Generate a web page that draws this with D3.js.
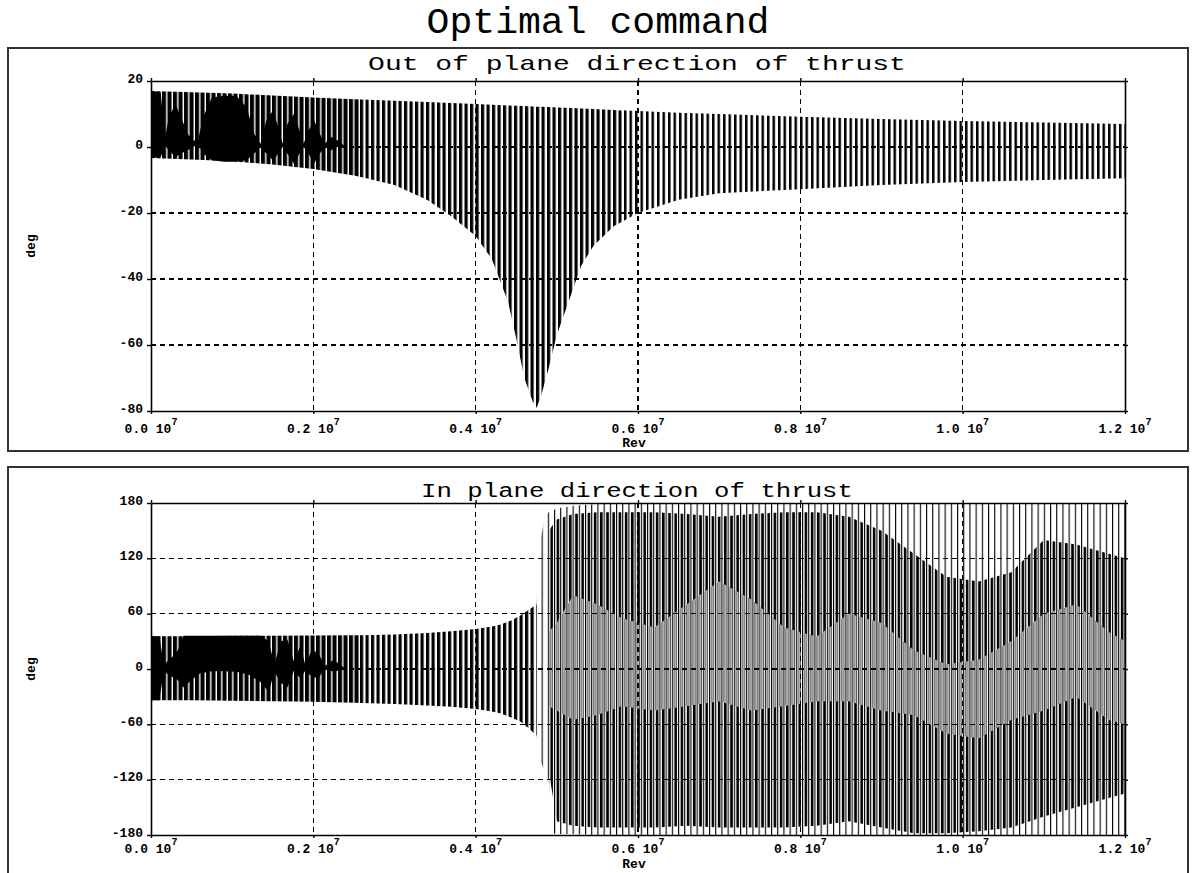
<!DOCTYPE html>
<html>
<head>
<meta charset="utf-8">
<script src="https://cdn.jsdelivr.net/npm/d3@7"></script>
<style>
  body { margin: 0; background: #fff; }
  svg { display: block; }
  .tk { font-family: "Liberation Mono", monospace; font-weight: bold; font-size: 13px; fill: #000; }
  .ttl { font-family: "Liberation Mono", monospace; fill: #000; }
</style>
</head>
<body>
<svg id="chart" width="1196" height="873"></svg>
<script>
// x values are in units of 10^7 rev
const xTicks = [0, 0.2, 0.4, 0.6, 0.8, 1.0, 1.2];
const outTicks = [-80, -60, -40, -20, 0, 20];
const inTicks = [-180, -120, -60, 0, 60, 120, 180];

// out of plane angle: envelope of the fast oscillation (deg)
const outRev = [0, 0.05, 0.1, 0.15, 0.2, 0.25, 0.3, 0.34, 0.37, 0.4, 0.42, 0.44, 0.45, 0.46, 0.47, 0.475, 0.48, 0.49, 0.5, 0.51, 0.52, 0.53, 0.545, 0.57, 0.6, 0.65, 0.7, 0.8, 0.9, 1.0, 1.1, 1.2];
const outMax = [17, 16.6, 16.2, 15.6, 15, 14.5, 14, 13.6, 13.3, 13, 12.8, 12.6, 12.5, 12.4, 12.3, 12.2, 12.2, 12.1, 12, 11.9, 11.8, 11.7, 11.5, 11.2, 10.9, 10.4, 10, 9.2, 8.5, 7.9, 7.4, 7];
const outMin = [-3.3, -3.8, -4.3, -5.3, -6.7, -8.6, -11.5, -16, -21, -27, -34, -47, -58, -70, -77, -79, -76, -67, -57, -50, -43, -36, -30, -24, -20, -16, -14, -12.8, -11.5, -10.6, -10, -9.5];
// where the strokes overlap into solid black (beats)
const outCoreRev = [0, 0.012, 0.017, 0.022, 0.03, 0.037, 0.045, 0.052, 0.058, 0.064, 0.075, 0.09, 0.105, 0.118, 0.127, 0.135, 0.142, 0.15, 0.157, 0.162, 0.168, 0.176, 0.183, 0.188, 0.194, 0.201, 0.208, 0.214, 0.222, 0.23, 0.24];
const outCoreMax = [17, 16.5, 2.5, 9, 13, 9, 4, 2, 2, 9, 15, 15.5, 15.5, 12, 4, 1, 8, 11, 6, 1, 7, 10, 5, 1, 5, 8, 4, 1, 3, 2, 0];
const outCoreMin = [-3.3, -3, 0.5, -1, -3, -2, -1, 0, 1, -2, -4, -4.5, -4.5, -4, -2, 0, -2, -4, -2, 0, -2, -5, -2, 0, -2, -5, -2, 0, -1, 0, 0];

// in plane angle before it starts wrapping (deg)
const inRev = [0, 0.05, 0.1, 0.15, 0.2, 0.25, 0.3, 0.34, 0.37, 0.4, 0.42, 0.43, 0.445, 0.455, 0.465, 0.475];
const inMax = [35.5, 35.5, 36, 36, 36.2, 36.5, 37.5, 39, 41, 43.5, 46, 48, 53, 58, 64, 70];
const inMin = [-34, -34, -34.5, -35, -35.5, -36.5, -38, -39.5, -41, -43.5, -46, -48, -53, -57, -64, -72];
const inCoreRev = [0, 0.01, 0.016, 0.025, 0.033, 0.04, 0.05, 0.06, 0.075, 0.09, 0.105, 0.12, 0.135, 0.145, 0.152, 0.16, 0.168, 0.176, 0.184, 0.19, 0.198, 0.206, 0.214, 0.225, 0.24];
const inCoreMax = [35.5, 35.5, 5, 12, 20, 36, 36, 36, 36, 36, 36, 36, 36, 30, 5, 30, 32, 8, 25, 5, 20, 18, 3, 10, 0];
const inCoreMin = [-34, -34, -3, -8, -12, -20, -12, -5, -2.5, -2.5, -3, -6, -14, -25, -3, -15, -20, -2, -10, -2, -8, -10, 0, -3, 0];

// in plane angle once it wraps at +-180 (deg)
const wrapRev = [0.475, 0.48, 0.485, 0.49, 0.495, 0.5, 0.52, 0.55, 0.6, 0.7, 0.8, 0.9, 1.0, 1.1, 1.2];
const wrapMax = [70, 140, 165, 170, 172, 174, 177, 179, 180, 180, 180, 180, 180, 180, 180];
const wrapMin = [-72, -100, -112, -120, -178, -179, -179, -180, -180, -180, -180, -180, -180, -180, -180];
// heavy strokes (upper and lower) and the grey middle band between them
const heavyRev = [0.49, 0.5, 0.52, 0.55, 0.58, 0.62, 0.66, 0.7, 0.74, 0.78, 0.82, 0.86, 0.9, 0.94, 0.98, 1.02, 1.06, 1.1, 1.14, 1.18, 1.2];
const upTop = [150, 162, 168, 170, 170, 170, 168, 165, 168, 170, 170, 165, 150, 125, 100, 95, 105, 140, 135, 125, 120];
const upEnd = [40, 50, 80, 70, 55, 45, 70, 95, 75, 45, 35, 60, 50, 20, 5, 10, 30, 60, 70, 40, 30];
const loEnd = [-40, -45, -55, -50, -40, -45, -40, -35, -45, -40, -35, -35, -45, -50, -70, -75, -55, -45, -30, -55, -60];
const loBot = [-110, -165, -170, -172, -172, -172, -170, -172, -172, -172, -170, -165, -172, -178, -178, -176, -172, -160, -150, -140, -135];

// stroke density changes along the run: [from, to] in 10^7 rev
const densityBreaks = [[0, 0.26, "hatchDense"], [0.26, 0.58, "hatch"], [0.58, 1.2, "hatchLight"]];

const svg = d3.select("#chart");
const defs = svg.append("defs");
const X0 = 151, X1 = 1125;

function pattern(id, w, bars) {
  const p = defs.append("pattern").attr("id", id)
    .attr("patternUnits", "userSpaceOnUse")
    .attr("x", X0).attr("y", 0).attr("width", w).attr("height", 20);
  bars.forEach(b => p.append("rect").attr("x", b[0]).attr("y", 0)
    .attr("width", b[1]).attr("height", 20).attr("fill", "#000"));
}
pattern("hatchDense", 5.5, [[0, 4.1]]);
pattern("hatch", 5.5, [[0, 3.2]]);
pattern("hatchLight", 5.5, [[0, 2.5]]);
pattern("thin", 6.2, [[0, 1.1]]);
pattern("thick", 6.2, [[2.6, 2.6]]);
pattern("grey", 6.2, [[2.2, 0.8], [4.2, 0.8]]);

const x = d3.scaleLinear().domain([0, 1.2]).range([X0, X1]);

function wideText(cx, by, s, size, width) {
  const t = svg.append("text").attr("class", "ttl").attr("text-anchor", "middle")
    .attr("font-size", size).text(s);
  const w = t.node().getComputedTextLength();
  t.attr("transform", `translate(${cx},${by}) scale(${width / w},1)`);
}

wideText(598, 33, "Optimal command", 36, 343);

function panel(o) {
  const g = svg.append("g");
  g.append("rect").attr("x", 8).attr("y", o.boxTop).attr("width", 1180).attr("height", o.boxH)
    .attr("fill", "none").attr("stroke", "#333").attr("stroke-width", 2);
  wideText(637, o.titleY, o.title, 21, o.titleLen);

  const y = d3.scaleLinear().domain([o.ticks[0], o.ticks[o.ticks.length - 1]]).range([o.bottom, o.top]);
  const clip = (id, a, b) => {
    defs.append("clipPath").attr("id", id).append("rect")
      .attr("x", x(a)).attr("y", o.top).attr("width", x(b) - x(a)).attr("height", o.bottom - o.top);
    return `url(#${id})`;
  };
  const plot = g.append("g").attr("clip-path", clip("clip" + o.top, 0, 1.2));

  const band = (rev, hi, lo, fill, range) => {
    const p = plot.append("path")
      .datum(rev.map((r, i) => [r, hi[i], lo[i]]))
      .attr("fill", fill)
      .attr("d", d3.area().x(d => x(d[0])).y0(d => y(d[2])).y1(d => y(d[1])));
    if (range) p.attr("clip-path", clip("c" + o.top + "_" + range[0], range[0], range[1]));
    return p;
  };

  o.draw(band);

  // dashed grid
  const grid = g.append("g").attr("stroke", "#000").attr("stroke-width", 1.2)
    .attr("stroke-dasharray", "5,4").attr("shape-rendering", "crispEdges");
  xTicks.slice(1, -1).forEach(v => grid.append("line")
    .attr("x1", x(v)).attr("x2", x(v)).attr("y1", o.top).attr("y2", o.bottom));
  o.ticks.slice(1, -1).forEach(v => grid.append("line")
    .attr("x1", X0).attr("x2", X1).attr("y1", y(v)).attr("y2", y(v)));

  // frame axes
  const ax = g.append("g");
  ax.append("g").attr("transform", `translate(0,${o.bottom})`)
    .call(d3.axisBottom(x).tickValues(xTicks).tickSize(3).tickSizeOuter(0).tickFormat(""));
  ax.append("g").attr("transform", `translate(0,${o.top})`)
    .call(d3.axisTop(x).tickValues(xTicks).tickSize(3).tickSizeOuter(0).tickFormat(""));
  ax.append("g").attr("transform", `translate(${X1},0)`)
    .call(d3.axisRight(y).tickValues(o.ticks).tickSize(3).tickSizeOuter(0).tickFormat(""));
  const yl = ax.append("g").attr("transform", `translate(${X0},0)`)
    .call(d3.axisLeft(y).tickValues(o.ticks).tickSize(4).tickSizeOuter(0).tickPadding(4).tickFormat(d => String(d)));
  yl.selectAll("text").attr("class", "tk").attr("dy", "0.1em").attr("font-size", null).attr("font-family", null);
  ax.selectAll(".domain").attr("stroke-width", 1.6);
  ax.selectAll(".tick line").attr("stroke-width", 1.4);

  // x tick labels "0.2 10^7"
  xTicks.forEach(v => {
    const t = g.append("text").attr("class", "tk").attr("x", x(v)).attr("y", o.bottom + o.labelGap)
      .attr("text-anchor", "middle");
    t.append("tspan").text(v.toFixed(1) + " 10");
    t.append("tspan").attr("dy", -8).attr("font-size", 10).text("7");
  });
  g.append("text").attr("class", "tk").attr("x", 634).attr("y", o.bottom + o.revGap)
    .attr("text-anchor", "middle").attr("font-size", 10).text("Rev");
  const my = (o.top + o.bottom) / 2;
  g.append("text").attr("class", "tk").attr("font-size", 11)
    .attr("transform", `translate(35,${my}) rotate(-90)`).attr("text-anchor", "middle").text("deg");
}

panel({
  boxTop: 48, boxH: 403, top: 81, bottom: 411, titleY: 70, titleLen: 538, labelGap: 22, revGap: 36,
  title: "Out of plane direction of thrust", ticks: outTicks,
  draw: band => {
    densityBreaks.forEach(d => band(outRev, outMax, outMin, `url(#${d[2]})`, [d[0], d[1]]));
    band(outCoreRev, outCoreMax, outCoreMin, "#000");
  }
});

panel({
  boxTop: 467, boxH: 430, top: 503, bottom: 835, titleY: 497, titleLen: 432, labelGap: 18, revGap: 33,
  title: "In plane direction of thrust", ticks: inTicks,
  draw: band => {
    densityBreaks.slice(0, 2).forEach(d => band(inRev, inMax, inMin, `url(#${d[2]})`, [d[0], d[1]]));
    band(inCoreRev, inCoreMax, inCoreMin, "#000");
    band(wrapRev, wrapMax, wrapMin, "url(#thin)");
    band(heavyRev, upTop, upEnd, "url(#thick)");
    band(heavyRev, upEnd, loEnd, "url(#grey)");
    band(heavyRev, loEnd, loBot, "url(#thick)");
  }
});
</script>
</body>
</html>
